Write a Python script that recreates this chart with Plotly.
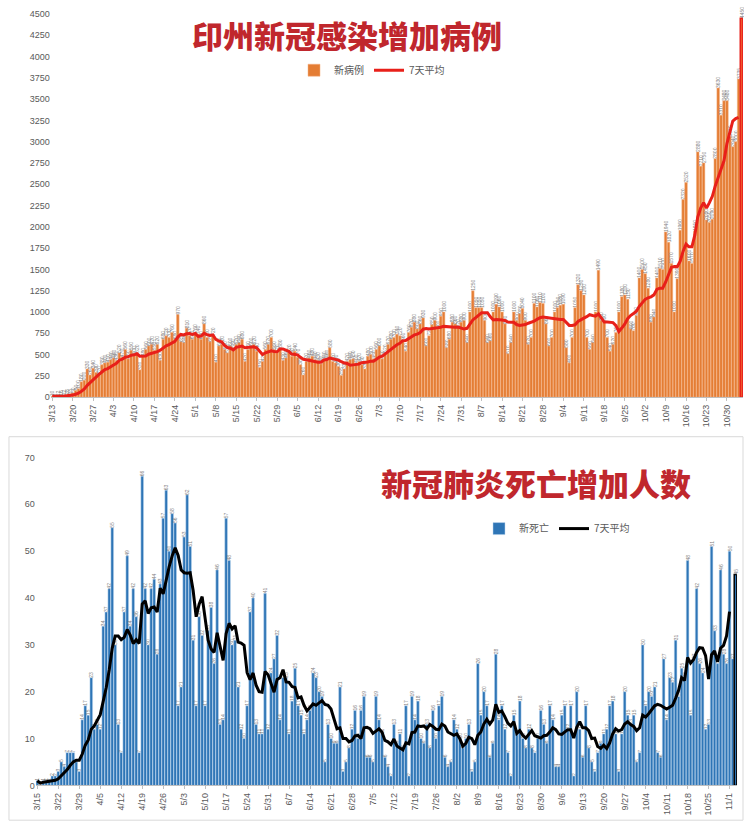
import plotly.graph_objects as go
import pandas as pd

# ---------------- Top chart: daily new cases (3/13 .. 11/4) ----------------
top_ticks = ["3/13", "3/20", "3/27", "4/3", "4/10", "4/17", "4/24", "5/1", "5/8", "5/15",
             "5/22", "5/29", "6/5", "6/12", "6/19", "6/26", "7/3", "7/10", "7/17", "7/24",
             "7/31", "8/7", "8/14", "8/21", "8/28", "9/4", "9/11", "9/18", "9/25", "10/2",
             "10/9", "10/16", "10/23", "10/30"]

new_cases = [
    10, 8, 12, 16, 22, 28, 35,
    50, 80, 100, 180, 200, 330, 260,
    340, 290, 270, 380, 400, 410, 440,
    460, 430, 520, 470, 560, 450, 550,
    500, 520, 320, 480, 560, 600, 620,
    550, 620, 430, 680, 720, 700, 760,
    680, 970, 650, 640, 810, 720, 680,
    760, 740, 680, 860, 700, 650, 720,
    410, 600, 620, 560, 520, 600, 580,
    620, 640, 680, 420, 560, 600, 620,
    540, 350, 420, 560, 620, 700, 560,
    520, 580, 430, 460, 520, 480, 540,
    470, 380, 260, 420, 460, 480, 440,
    430, 390, 440, 460, 580, 420, 400,
    360, 255, 330, 420, 440, 450, 400,
    420, 380, 330, 480, 500, 450, 560,
    600, 450, 520, 620, 680, 700, 740,
    720, 660, 540, 760, 820, 880, 800,
    860, 930, 600, 720, 850, 900, 800,
    950, 1000, 580, 680, 880, 860, 820,
    880, 900, 640, 1000, 1250, 1050, 1050,
    1050, 900, 640, 660, 1000, 1090, 1060,
    1000, 860, 510, 640, 1000, 900, 980,
    1040, 900, 620, 700, 1100, 1060, 1110,
    1100, 860, 600, 700, 1000, 1050, 1080,
    1090, 580, 400, 700, 1050, 1320, 1250,
    1200, 700, 560, 640, 1000, 1490, 900,
    880, 700, 540, 620, 760, 1000, 1180,
    1200, 1150, 800, 780, 960, 1400, 1500,
    1450, 1280, 880, 940, 1400, 1510, 1500,
    1940, 1820, 1570, 1000, 1390, 1960, 2320,
    2520, 1600, 1570, 1950, 2880, 2710, 2750,
    2080, 2050, 2090, 2800, 3630, 3310, 3480,
    3480, 3060, 2940, 3000, 3735, 4450,
]

# ---------------- Bottom chart: daily new deaths (3/15 .. 11/3) ----------------
bot_ticks = ["3/15", "3/22", "3/29", "4/5", "4/12", "4/19", "4/26", "5/3", "5/10", "5/17",
             "5/24", "5/31", "6/7", "6/14", "6/21", "6/28", "7/5", "7/12", "7/19", "7/26",
             "8/2", "8/9", "8/16", "8/23", "8/30", "9/6", "9/13", "9/20", "9/27", "10/4",
             "10/11", "10/18", "10/25", "11/1"]

new_deaths = [
    1, 0, 1, 1, 1, 2, 2,
    3, 5, 4, 7, 7, 7, 5,
    3, 14, 17, 15, 23, 12, 13,
    12, 34, 37, 42, 55, 30, 13,
    7, 37, 49, 34, 42, 36, 7,
    66, 42, 30, 42, 44, 28, 43,
    57, 63, 50, 58, 56, 17, 21,
    53, 62, 51, 31, 17, 36, 32,
    17, 33, 38, 26, 46, 13, 14,
    57, 48, 30, 31, 21, 12, 10,
    17, 37, 40, 13, 11, 11, 41,
    12, 24, 27, 32, 14, 23, 23,
    11, 18, 25, 17, 15, 11, 14,
    16, 24, 23, 20, 19, 5, 13,
    10, 9, 9, 21, 3, 5, 8,
    12, 16, 10, 16, 19, 6, 6,
    5, 19, 14, 11,
    6, 4, 2, 13, 9, 11, 8, 17, 2, 19, 14, 18, 10, 9, 13, 8, 16,
    10, 17, 19, 6, 4, 5, 14, 12, 10, 8, 10, 13, 3, 5, 26, 15, 20,
    17, 6, 9, 28, 14, 17,
    12, 7, 2, 15, 11, 18, 10, 8, 12, 8, 7, 10, 16, 13, 9, 17, 14, 4, 4,
    15, 17, 12, 17, 2, 20, 12, 6, 17, 8, 5, 3, 7, 9, 11, 12, 17, 18, 11,
    3, 11, 20, 15, 13, 15, 5, 7, 30, 17, 20, 19, 21, 7, 6, 27, 14, 23, 22,
    31, 19, 25, 23, 48, 15, 27, 42, 26, 24, 12, 13, 51, 33, 26, 46, 28, 26,
    50, 27, 45,
]

x_top = list(range(len(new_cases)))
x_bot = list(range(len(new_deaths)))

avg_top = pd.Series(new_cases).rolling(7, min_periods=1).mean().round(1).tolist()
avg_bot = pd.Series(new_deaths).rolling(7, min_periods=1).mean().round(1).tolist()
avg_top_len = len(new_cases) - 1
avg_bot_len = len(new_deaths) - 2

W, H = 744, 826

def py(px):
    return 1 - px / H

def pxx(px):
    return px / W

top_colors = ["#E47D34"] * len(new_cases)
top_colors[-1] = "#F0562A"
top_lines = ["#F4B183"] * len(new_cases)
top_lines[-1] = "#E8201A"
top_lw = [0.5] * len(new_cases)
top_lw[-1] = 1.5

bot_colors = ["#2E75B6"] * len(new_deaths)
bot_lines = ["#BDD7EE"] * len(new_deaths)
bot_lines[-1] = "#000000"
bot_lw = [0.5] * len(new_deaths)
bot_lw[-1] = 1.5

fig = go.Figure()

fig.add_trace(go.Bar(
    x=x_top, y=new_cases, name="新病例", xaxis="x", yaxis="y",
    marker=dict(color=top_colors, line=dict(color=top_lines, width=top_lw)),
    text=[str(v) for v in new_cases], textposition="outside", textangle=-90,
    textfont=dict(size=5, color="#7f7f7f", family="Liberation Sans"),
    constraintext="none", cliponaxis=False, legend="legend",
))
fig.add_trace(go.Scatter(
    x=x_top[:avg_top_len], y=avg_top[:avg_top_len], name="7天平均", mode="lines",
    xaxis="x", yaxis="y", line=dict(color="#E8201A", width=3), legend="legend",
))

fig.add_trace(go.Bar(
    x=x_bot, y=new_deaths, name="新死亡", xaxis="x2", yaxis="y2",
    marker=dict(color=bot_colors, line=dict(color=bot_lines, width=bot_lw)),
    text=[str(v) for v in new_deaths], textposition="outside", textangle=-90,
    textfont=dict(size=5, color="#7f7f7f", family="Liberation Sans"),
    constraintext="none", cliponaxis=False, legend="legend2",
))
fig.add_trace(go.Scatter(
    x=x_bot[:avg_bot_len], y=avg_bot[:avg_bot_len], name="7天平均", mode="lines",
    xaxis="x2", yaxis="y2", line=dict(color="#000000", width=3), legend="legend2",
))

tick_font = dict(family="Liberation Sans", size=9, color="#595959")

fig.update_layout(
    width=W, height=H, margin=dict(l=0, r=0, t=0, b=0),
    paper_bgcolor="white", plot_bgcolor="white",
    bargap=0.12, showlegend=True,
    font=dict(family="Noto Sans CJK SC"),
    xaxis=dict(domain=[pxx(47), pxx(743)], range=[-0.5, len(new_cases) - 0.5], anchor="y",
               tickmode="array", tickvals=list(range(0, len(new_cases), 7)), ticktext=top_ticks,
               tickangle=-90, tickfont=tick_font, showline=True, linecolor="#bfbfbf",
               ticks="outside", ticklen=3, tickcolor="#bfbfbf", showgrid=False, zeroline=False),
    yaxis=dict(domain=[py(397), py(9)], range=[0, 4500], anchor="x",
               tickmode="array", tickvals=list(range(0, 4501, 250)),
               tickfont=tick_font, showgrid=False, zeroline=False, showline=False),
    xaxis2=dict(domain=[pxx(32), pxx(737)], range=[-0.5, len(new_deaths) - 0.5], anchor="y2",
                tickmode="array", tickvals=list(range(0, len(new_deaths), 7)), ticktext=bot_ticks,
                tickangle=-90, tickfont=tick_font, showline=True, linecolor="#bfbfbf",
                ticks="outside", ticklen=3, tickcolor="#bfbfbf", showgrid=False, zeroline=False),
    yaxis2=dict(domain=[py(790), py(458)], range=[0, 70], anchor="x2",
                tickmode="array", tickvals=list(range(0, 71, 10)),
                tickfont=tick_font, showgrid=False, zeroline=False, showline=False),
    legend=dict(orientation="h", x=pxx(370), y=py(66), xanchor="center", yanchor="middle",
                font=dict(size=10, color="#595959", family="Noto Sans CJK SC"),
                bgcolor="rgba(0,0,0,0)", itemwidth=30),
    legend2=dict(orientation="h", x=pxx(556), y=py(530), xanchor="center", yanchor="middle",
                 font=dict(size=10, color="#595959", family="Noto Sans CJK SC"),
                 bgcolor="rgba(0,0,0,0)", itemwidth=30),
    shapes=[dict(type="rect", xref="paper", yref="paper",
                 x0=pxx(5), x1=pxx(743), y0=0.001, y1=py(437),
                 line=dict(color="#d9d9d9", width=1), fillcolor="rgba(0,0,0,0)", layer="below")],
)

title_font = dict(family="Noto Sans CJK SC", size=31, color="#C0272D", weight=900)
for txt, cx, cy in [("印州新冠感染增加病例", 345, 30), ("新冠肺炎死亡增加人数", 535, 483)]:
    fig.add_annotation(text=txt, xref="paper", yref="paper", x=pxx(cx), y=py(cy),
                       showarrow=False, font=title_font, xanchor="center", yanchor="middle")

fig.write_html("out.html", config={"displayModeBar": False},
               post_script="document.body.style.margin='0';document.body.style.overflow='hidden';")
